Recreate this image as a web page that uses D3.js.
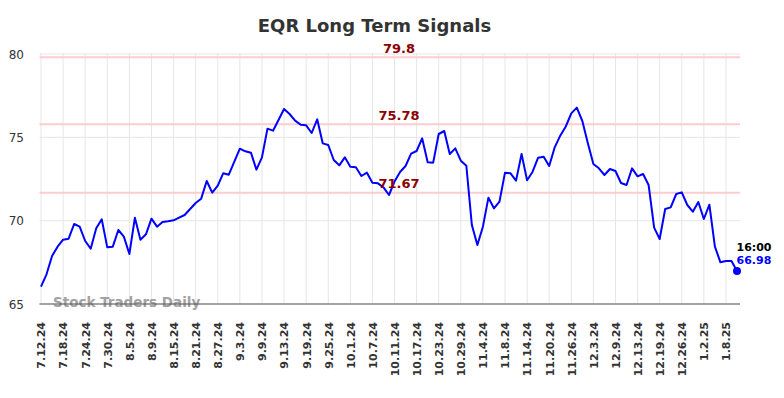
<!DOCTYPE html>
<html>
<head>
<meta charset="utf-8">
<script src="https://cdn.jsdelivr.net/npm/d3@7"></script>
<style>
  body { margin: 0; background: #fff; }
  svg { display: block; font-family: "DejaVu Sans", sans-serif; }
</style>
</head>
<body>
<div id="chart"></div>
<script>
// tick labels, one every 4 trading days starting at index 0
const tickLabels = ['7.12.24','7.18.24','7.24.24','7.30.24','8.5.24','8.9.24','8.15.24','8.21.24',
  '8.27.24','9.3.24','9.9.24','9.13.24','9.19.24','9.25.24','10.1.24','10.7.24','10.11.24',
  '10.17.24','10.23.24','10.29.24','11.4.24','11.8.24','11.14.24','11.20.24','11.26.24',
  '12.3.24','12.9.24','12.13.24','12.19.24','12.26.24','1.2.25','1.8.25'];

// daily closes
const closes = [
  66.04, 66.78, 67.88, 68.44, 68.86, 68.92, 69.80, 69.64, 68.78, 68.32,
  69.54, 70.08, 68.40, 68.44, 69.44, 69.04, 68.00, 70.18, 68.86, 69.18,
  70.12, 69.64, 69.92, 69.96, 70.02, 70.18, 70.34, 70.70, 71.06, 71.32,
  72.38, 71.68, 72.10, 72.85, 72.76, 73.54, 74.32, 74.16, 74.08, 73.06,
  73.80, 75.52, 75.40, 76.04, 76.70, 76.40, 76.00, 75.76, 75.72, 75.26,
  76.08, 74.64, 74.54, 73.64, 73.32, 73.80, 73.24, 73.20, 72.68, 72.88,
  72.28, 72.24, 72.00, 71.54, 72.35, 72.92, 73.28, 74.02, 74.18, 74.94,
  73.50, 73.48, 75.20, 75.38, 74.00, 74.34, 73.60, 73.30, 69.74, 68.54,
  69.64, 71.38, 70.74, 71.14, 72.88, 72.84, 72.40, 74.00, 72.42, 72.94,
  73.78, 73.84, 73.28, 74.40, 75.10, 75.65, 76.44, 76.78, 75.98, 74.64,
  73.40, 73.14, 72.74, 73.10, 72.98, 72.26, 72.14, 73.14, 72.66, 72.80,
  72.14, 69.58, 68.90, 70.70, 70.80, 71.60, 71.70, 70.94, 70.54, 71.12,
  70.10, 70.96, 68.44, 67.50, 67.58, 67.58, 66.98
];

const signalLevels = [79.8, 75.78, 71.67];
const yTicks = [65, 70, 75, 80];
const lastTime = '16:00';

(function(){
  const width = 784, height = 398;
  const plotL = 39.5, plotR = 740, plotT = 53, plotB = 304;

  const svg = d3.select('#chart').append('svg')
    .attr('width', width).attr('height', height);

  const x = d3.scaleLinear().domain([0, closes.length - 1]).range([41, 737]);
  const y = d3.scaleLinear().domain([65, 80]).range([304, 54]);

  // title
  svg.append('text')
    .attr('x', 374.5).attr('y', 32)
    .attr('text-anchor', 'middle')
    .style('font-size', '18px').style('font-weight', 'bold').style('fill', '#333')
    .text('EQR Long Term Signals');

  // vertical grid
  const tickIdx = tickLabels.map((d, i) => i * 4);
  svg.append('g').selectAll('line').data(tickIdx).join('line')
    .attr('x1', d => x(d)).attr('x2', d => x(d))
    .attr('y1', plotT).attr('y2', plotB)
    .attr('stroke', '#e6e6e6').attr('stroke-width', 1);

  // horizontal grid
  svg.append('g').selectAll('line').data(yTicks).join('line')
    .attr('x1', plotL).attr('x2', plotR)
    .attr('y1', d => y(d)).attr('y2', d => y(d))
    .attr('stroke', '#e6e6e6').attr('stroke-width', 1);

  // y labels
  svg.append('g').selectAll('text').data(yTicks).join('text')
    .attr('x', 24).attr('y', d => y(d) + 4.5)
    .attr('text-anchor', 'end')
    .style('font-size', '12px').style('fill', '#333')
    .text(d => d);

  // x axis via d3 axis, then restyle
  const xAxis = d3.axisBottom(x)
    .tickValues(tickIdx)
    .tickFormat((d, i) => tickLabels[i])
    .tickSize(0);
  const xg = svg.append('g').attr('transform', `translate(0,${plotB})`).call(xAxis);
  xg.select('.domain').remove();
  xg.selectAll('text')
    .attr('transform', 'rotate(-90)')
    .attr('x', -18).attr('y', 0).attr('dy', '0.35em')
    .attr('text-anchor', 'end')
    .style('font-family', '"DejaVu Sans", sans-serif')
    .style('font-size', '11px').style('font-weight', 'bold').style('fill', '#333');

  // signal lines
  svg.append('g').selectAll('line').data(signalLevels).join('line')
    .attr('x1', plotL).attr('x2', plotR)
    .attr('y1', d => y(d)).attr('y2', d => y(d))
    .attr('stroke', '#ffcccc').attr('stroke-width', 2);

  // watermark
  svg.append('text')
    .attr('x', 53).attr('y', 307)
    .style('font-size', '13.5px').style('font-weight', 'bold').style('fill', '#999').style('opacity', 0.9)
    .text('Stock Traders Daily');

  // axis baseline
  svg.append('line')
    .attr('x1', plotL).attr('x2', plotR).attr('y1', plotB).attr('y2', plotB)
    .attr('stroke', '#555').attr('stroke-width', 1.2);

  // price line
  const line = d3.line().x((d, i) => x(i)).y(d => y(d));
  svg.append('path').datum(closes)
    .attr('d', line)
    .attr('fill', 'none').attr('stroke', '#0000ff').attr('stroke-width', 2)
    .attr('stroke-linejoin', 'round');

  // signal labels
  svg.append('g').selectAll('text').data(signalLevels).join('text')
    .attr('x', 399).attr('y', d => y(d) - 4.5)
    .attr('text-anchor', 'middle')
    .style('font-size', '13px').style('font-weight', 'bold').style('fill', '#8b0000')
    .text(d => d);

  // last point
  const lastI = closes.length - 1, lastV = closes[lastI];
  svg.append('circle')
    .attr('cx', x(lastI)).attr('cy', y(lastV)).attr('r', 4)
    .attr('fill', '#0000ff');
  svg.append('text')
    .attr('x', x(lastI) - 0.5).attr('y', 251)
    .style('font-size', '11px').style('font-weight', 'bold').style('fill', '#000')
    .text(lastTime);
  svg.append('text')
    .attr('x', x(lastI) - 0.5).attr('y', 264)
    .style('font-size', '11px').style('font-weight', 'bold').style('fill', '#0000ff')
    .text(lastV.toFixed(2));
})();
</script>
</body>
</html>
